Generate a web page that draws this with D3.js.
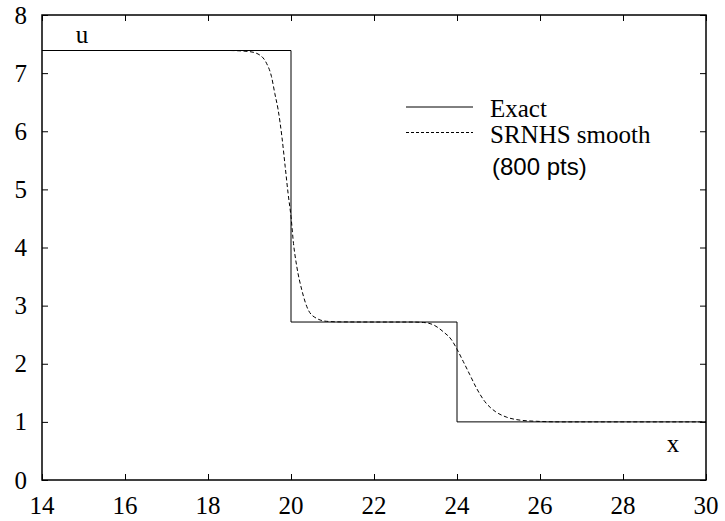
<!DOCTYPE html>
<html>
<head>
<meta charset="utf-8">
<script src="https://cdn.jsdelivr.net/npm/d3@7"></script>
<style>
  html, body { margin: 0; padding: 0; background: #fff; }
  svg { display: block; }
</style>
</head>
<body>
<svg id="chart" width="725" height="521"></svg>
<script>
// ---- data ----
const xTicks = [14, 16, 18, 20, 22, 24, 26, 28, 30];
const yTicks = [0, 1, 2, 3, 4, 5, 6, 7, 8];

const exactX = [14, 20, 20, 24, 24, 30];
const exactU = [7.389, 7.389, 2.718, 2.718, 1.0, 1.0];

const smoothX = [14, 18.5, 19.0, 19.25, 19.41, 19.53, 19.61, 19.69, 19.78, 19.86, 19.93,
                 20.0, 20.06, 20.14, 20.26, 20.42, 20.62, 20.86, 21.2, 22.0, 22.87, 23.19,
                 23.43, 23.67, 23.87, 24.0, 24.15, 24.31, 24.47, 24.67, 24.92, 25.2, 25.52,
                 25.92, 26.5, 30];
const smoothU = [7.389, 7.389, 7.37, 7.31, 7.17, 6.94, 6.65, 6.37, 5.91, 5.39, 4.93,
                 4.53, 4.07, 3.67, 3.27, 2.92, 2.78, 2.73, 2.72, 2.718, 2.718, 2.71,
                 2.67, 2.55, 2.41, 2.25, 2.04, 1.81, 1.58, 1.35, 1.18, 1.08, 1.03,
                 1.01, 1.0, 1.0];

const seriesNames = ["Exact", "SRNHS smooth"];
const noteText = "(800 pts)";
const yLabel = "u";
const xLabel = "x";

// ---- layout ----
const L = 42, R = 706, T = 15, B = 480;
const serif = "Liberation Serif";
const sans = "Liberation Sans";
const fs = 25;

const svg = d3.select("#chart");
const x = d3.scaleLinear().domain([14, 30]).range([L, R]);
const y = d3.scaleLinear().domain([0, 8]).range([B, T]);

// axes: ticks inward on all four sides (gnuplot-like)
const tickLen = 6;
const axB = svg.append("g").attr("transform", `translate(0,${B})`)
  .call(d3.axisBottom(x).tickValues(xTicks).tickSize(-tickLen).tickFormat(""));
const axL = svg.append("g").attr("transform", `translate(${L},0)`)
  .call(d3.axisLeft(y).tickValues(yTicks).tickSize(-tickLen).tickFormat(""));
const axT = svg.append("g").attr("transform", `translate(0,${T})`)
  .call(d3.axisTop(x).tickValues(xTicks).tickSize(-tickLen).tickFormat(""));
const axR = svg.append("g").attr("transform", `translate(${R},0)`)
  .call(d3.axisRight(y).tickValues(yTicks).tickSize(-tickLen).tickFormat(""));

[axB, axL, axT, axR].forEach(g => {
  g.select(".domain").remove();
  g.selectAll(".tick line").attr("stroke", "#000").attr("stroke-width", 1);
  g.selectAll(".tick text").remove();
});

// tick labels (serif)
svg.append("g").selectAll("text").data(xTicks).join("text")
  .attr("x", d => x(d)).attr("y", B + 34)
  .attr("text-anchor", "middle")
  .attr("font-family", serif).attr("font-size", fs).attr("fill", "#000")
  .text(d => d3.format("d")(d));
svg.append("g").selectAll("text").data(yTicks).join("text")
  .attr("x", L - 15).attr("y", d => y(d) + 8.5)
  .attr("text-anchor", "end")
  .attr("font-family", serif).attr("font-size", fs).attr("fill", "#000")
  .text(d => d3.format("d")(d));

// frame
svg.append("rect")
  .attr("x", L).attr("y", T).attr("width", R - L).attr("height", B - T)
  .attr("fill", "none").attr("stroke", "#000").attr("stroke-width", 1.5);

// lines
const exactData = exactX.map((d, i) => [d, exactU[i]]);
const smoothData = smoothX.map((d, i) => [d, smoothU[i]]);

svg.append("path")
  .datum(exactData)
  .attr("d", d3.line().x(d => x(d[0])).y(d => y(d[1])))
  .attr("fill", "none").attr("stroke", "#000").attr("stroke-width", 1);

svg.append("path")
  .datum(smoothData)
  .attr("d", d3.line().x(d => x(d[0])).y(d => y(d[1])).curve(d3.curveMonotoneX))
  .attr("fill", "none").attr("stroke", "#000").attr("stroke-width", 1)
  .attr("stroke-dasharray", "4,2.5");

// axis labels
svg.append("text").attr("x", 82).attr("y", 43).attr("text-anchor", "middle")
  .attr("font-family", serif).attr("font-size", fs).text(yLabel);
svg.append("text").attr("x", 673).attr("y", 452).attr("text-anchor", "middle")
  .attr("font-family", serif).attr("font-size", fs).text(xLabel);

// legend
const lg = svg.append("g");
lg.append("line").attr("x1", 406).attr("x2", 473).attr("y1", 107).attr("y2", 107)
  .attr("stroke", "#000").attr("stroke-width", 1);
lg.append("line").attr("x1", 406).attr("x2", 473).attr("y1", 132.5).attr("y2", 132.5)
  .attr("stroke", "#000").attr("stroke-width", 1).attr("stroke-dasharray", "3,2");
lg.append("text").attr("x", 490).attr("y", 117).attr("font-family", serif).attr("font-size", fs).text(seriesNames[0]);
lg.append("text").attr("x", 490).attr("y", 143).attr("font-family", serif).attr("font-size", fs).text(seriesNames[1]);
lg.append("text").attr("x", 492).attr("y", 175).attr("font-family", sans).attr("font-size", 24).text(noteText);
</script>
</body>
</html>
